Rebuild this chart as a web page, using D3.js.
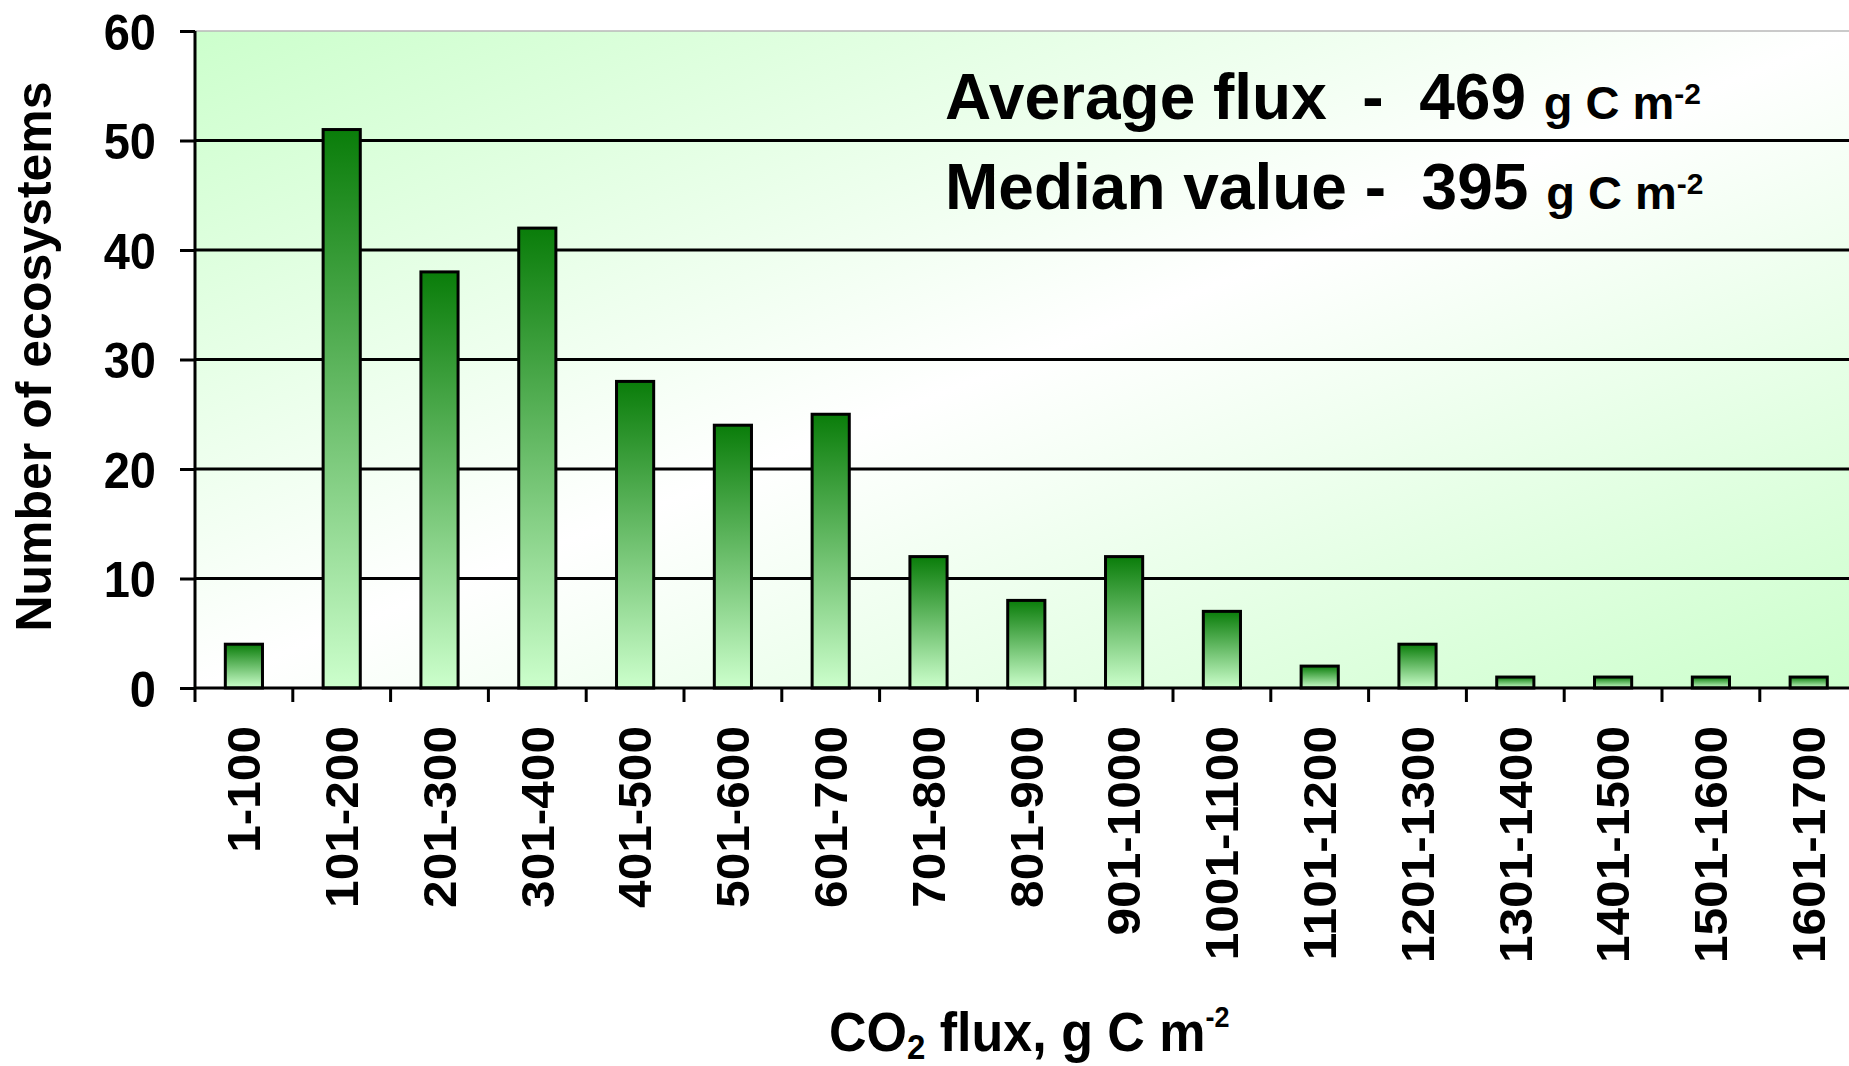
<!DOCTYPE html>
<html><head><meta charset="utf-8">
<script src="https://cdn.jsdelivr.net/npm/d3@7"></script>
<style>
body{margin:0;background:#fff}
svg{display:block}
text{font-family:"Liberation Sans",Arial,sans-serif;font-weight:bold;fill:#000}
</style>
</head><body><svg id="chart" width="1849" height="1066"></svg>
<script>
// ---- data ----
const categories = ["1-100","101-200","201-300","301-400","401-500","501-600","601-700","701-800","801-900","901-1000","1001-1100","1101-1200","1201-1300","1301-1400","1401-1500","1501-1600","1601-1700"];
const counts = [4,51,38,42,28,24,25,12,8,12,7,2,4,1,1,1,1];
const yTicks = [0,10,20,30,40,50,60];
const yTitle = "Number of ecosystems";
const statLabels = ["Average flux  -  ","Median value -  "];
const statValues = [469,395];
const statUnit = "g C m";
const unitExp = "-2";

// ---- layout ----
const mLeft = 195, mTop = 31, mBottom = 688;
const step = 97.8;
const mRight = mLeft + step * categories.length;
const vStretch = 1.08;

const svg = d3.select("#chart");
const defs = svg.append("defs");

const bg = defs.append("linearGradient").attr("id","bgGrad")
  .attr("x1",0).attr("y1",0).attr("x2",1).attr("y2",1);
bg.append("stop").attr("offset",0).attr("stop-color","#ccffcc");
bg.append("stop").attr("offset",0.5).attr("stop-color","#ffffff");
bg.append("stop").attr("offset",1).attr("stop-color","#ccffcc");

const bar = defs.append("linearGradient").attr("id","barGrad")
  .attr("x1",0).attr("y1",0).attr("x2",0).attr("y2",1);
bar.append("stop").attr("offset",0).attr("stop-color","#0a7d0a");
bar.append("stop").attr("offset",1).attr("stop-color","#ccffcc");

const x = d3.scaleBand().domain(categories).range([mLeft,mRight]).paddingInner(0.62).paddingOuter(0.31);
const xCat = d3.scaleBand().domain(categories).range([mLeft,mRight]).padding(0);
const y = d3.scaleLinear().domain([0,60]).range([mBottom,mTop]);

// plot area background
svg.append("rect").attr("x",mLeft).attr("y",y(60)).attr("width",mRight-mLeft).attr("height",y(0)-y(60))
  .attr("fill","url(#bgGrad)");

// gridlines
svg.append("g").selectAll("line").data(yTicks.filter(d=>d>0)).join("line")
  .attr("x1",mLeft).attr("x2",mRight).attr("y1",d=>y(d)).attr("y2",d=>y(d))
  .attr("stroke",d=>d===60?"#b8b8b8":"#000").attr("stroke-width",d=>d===60?1.5:3);

// bars
svg.append("g").selectAll("rect").data(counts).join("rect")
  .attr("x",(d,i)=>x(categories[i])).attr("width",x.bandwidth())
  .attr("y",d=>y(d)).attr("height",d=>y(0)-y(d))
  .attr("fill","url(#barGrad)").attr("stroke","#000").attr("stroke-width",3);

// y axis
const yAxis = svg.append("g").attr("transform",`translate(${mLeft},0)`)
  .call(d3.axisLeft(y).tickValues(yTicks).tickSize(15).tickPadding(24).tickFormat(d3.format("d")));
yAxis.select(".domain").attr("stroke","#000").attr("stroke-width",3).attr("d",`M0,${y(60)}V${y(0)}`);
yAxis.selectAll(".tick line").attr("stroke","#000").attr("stroke-width",3);
yAxis.selectAll(".tick text")
  .attr("x",null).attr("dy","0.36em").attr("font-size",47).attr("text-anchor","end")
  .attr("transform",`translate(-39,0) scale(1,${vStretch})`);
yAxis.attr("font-family",null).attr("font-size",null);

// x axis
const xAxisG = svg.append("g").attr("transform",`translate(0,${mBottom})`);
xAxisG.append("line").attr("x1",mLeft).attr("x2",mRight).attr("y1",0).attr("y2",0)
  .attr("stroke","#000").attr("stroke-width",3);
const bounds = categories.map(c=>xCat(c)).concat([mRight]);
xAxisG.selectAll("line.tk").data(bounds).join("line").attr("class","tk")
  .attr("x1",d=>d).attr("x2",d=>d).attr("y1",0).attr("y2",14)
  .attr("stroke","#000").attr("stroke-width",3);
xAxisG.selectAll("text.lab").data(categories).join("text").attr("class","lab")
  .attr("transform",d=>`translate(${xCat(d)+xCat.bandwidth()/2},38) scale(1,1.066) rotate(-90)`)
  .attr("text-anchor","end").attr("dy","0.35em").attr("font-size",46.5).text(d=>d);

// y title
svg.append("text").attr("transform",`translate(51,${(mTop+mBottom)/2-3}) rotate(-90)`)
  .attr("text-anchor","middle").attr("font-size",50).text(yTitle);

// x title
const xt = svg.append("text").attr("transform",`translate(829,1051) scale(1,1.06)`)
  .attr("font-size",52);
xt.append("tspan").text("CO");
xt.append("tspan").attr("font-size",33).attr("dy",8).text("2");
xt.append("tspan").attr("dy",-8).text(" flux, g C m");
xt.append("tspan").attr("font-size",27).attr("dy",-23).text(unitExp);

// stats annotation
const baselines = [119,209];
statLabels.forEach((lab,i)=>{
  const t = svg.append("text").attr("transform",`translate(945,${baselines[i]})`)
    .attr("font-size",64).style("white-space","pre");
  t.append("tspan").text(lab + statValues[i] + " ");
  t.append("tspan").attr("font-size",47).text(statUnit);
  t.append("tspan").attr("font-size",30).attr("dy",-15).text(unitExp);
});
</script>
</body></html>
